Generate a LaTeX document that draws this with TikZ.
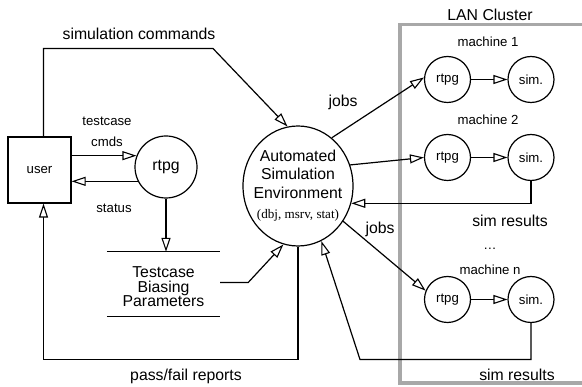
\documentclass[tikz,border=0pt]{standalone}
\usepackage{fontspec}
\setmainfont{Liberation Sans}
\newfontfamily\serifx{Liberation Serif}
\usetikzlibrary{arrows.meta,shapes.geometric,calc}

\definecolor{lanframe}{HTML}{A8A8A8}

\tikzset{
  big/.style={font=\fontsize{15.8}{17}\selectfont},
  small/.style={font=\fontsize{13.2}{15}\selectfont},
  wire/.style={line width=1.2pt, black},
  arr/.style={wire, -{Triangle[length=14pt, width=9pt, fill=white, line width=1.1pt]}},
  proc/.style={circle, draw, line width=1.2pt, inner sep=0pt},
  txt/.style={inner sep=0pt, anchor=center},
}

\begin{document}
\begin{tikzpicture}[x=1pt, y=-1pt]
  \useasboundingbox (0,0) rectangle (582,387);

  % LAN cluster frame (runs off the right edge)
  \draw[lanframe, line width=3.5pt] (400,24.5) rectangle (590,383);
  \node[txt, big] (lanlabel) at (490,15) {LAN Cluster};

  % user, local generator and biasing store
  \node[draw, line width=1.2pt, minimum width=63pt, minimum height=66pt, inner sep=0pt,
        small] (user) at (39.5,170) {user};
  \node[proc, minimum size=62pt, big] (rtpg) at (166,167) {rtpg};
  \node[inner sep=0pt, minimum width=113pt, minimum height=64pt] (tcb) at (163.5,284) {};
  \draw[wire] (tcb.north west) -- (tcb.north east);
  \draw[wire] (tcb.south west) -- (tcb.south east);
  \node[txt, align=center, font=\fontsize{15.8}{14.6}\selectfont] (tcbtext) at (163.5,287)
       {Testcase\\Biasing\\Parameters};

  % simulation environment
  \node[ellipse, draw, line width=1.2pt, minimum width=110pt, minimum height=120pt,
        inner sep=0pt] (ase) at (298,186) {};
  \node[big, inner sep=0pt, anchor=base] (ase1) at (298,162) {Automated};
  \node[big, inner sep=0pt, anchor=base] (ase2) at (298,180) {Simulation};
  \node[big, inner sep=0pt, anchor=base] (ase3) at (298,199) {Environment};
  \node[inner sep=0pt, anchor=base, font=\serifx\fontsize{13.1}{15}\selectfont] (ase4)
       at (298,219) {(dbj, msrv, stat)};

  % machines in the cluster
  \node[txt, small] (m1) at (488,42) {machine 1};
  \node[proc, minimum size=46pt, small] (rtpg1) at (447.5,79.5) {rtpg};
  \node[proc, minimum size=46pt, small] (sim1) at (531,79.5) {sim.};
  \node[txt, small] (m2) at (488,120) {machine 2};
  \node[proc, minimum size=46pt, small] (rtpg2) at (447.5,157.5) {rtpg};
  \node[proc, minimum size=46pt, small] (sim2) at (531,157.5) {sim.};
  \node[txt, small] (dots) at (490,249) {\ldots};
  \node[txt, small] (mn) at (490,270) {machine n};
  \node[proc, minimum size=46pt, small] (rtpgn) at (447.5,299.5) {rtpg};
  \node[proc, minimum size=46pt, small] (simn) at (531,299.5) {sim.};

  \draw[arr] (rtpg1) -- (sim1);
  \draw[arr] (rtpg2) -- (sim2);
  \draw[arr] (rtpgn) -- (simn);

  % routing points
  \coordinate (cmdbend) at (213,48.5);
  \coordinate (bottomrail) at (0,359.5);
  \coordinate (resbend) at (360,359.5);

  % user <-> environment
  \draw[arr] ([xshift=4pt]user.north) |- (cmdbend) -- (ase.100);
  \node[txt, big] (cmdlabel) at (139,34) {simulation commands};
  \draw[arr] (ase.south) -- (ase.south |- bottomrail) -| ([xshift=4pt]user.south);
  \node[txt, big] (pflabel) at (186,376) {pass/fail reports};

  % user <-> rtpg
  \draw[arr] (user.east |- rtpg.159) -- (rtpg.159);
  \draw[arr] (rtpg.207) -- (user.east |- rtpg.207);
  \node[txt, small] (tclabel) at (107,121) {testcase};
  \node[txt, small] (cmdslabel) at (107,142) {cmds};
  \node[txt, small] (stlabel) at (114,208) {status};

  % rtpg -> biasing parameters -> environment
  \draw[arr] (rtpg.south) -- (rtpg.south |- tcb.north);
  \draw[arr] (tcb.east |- 0,282.5) -- ++(28,0) -- (ase.256);

  % jobs out
  \draw[arr] (ase.55) -- (rtpg1.175);
  \node[txt, big] (jobs1) at (343,102) {jobs};
  \draw[arr] (ase.22) -- (rtpg2.180);
  \draw[arr] (ase.-38) -- (rtpgn.158);
  \node[txt, big] (jobs2) at (380,229) {jobs};

  % results back
  \draw[arr] (sim2.south) |- (ase.-18);
  \node[txt, big] (res1) at (510,221) {sim results};
  \draw[arr] (simn.south) |- (resbend) -- (ase.-67);
  \node[txt, big] (res2) at (517,375) {sim results};
\end{tikzpicture}
\end{document}
